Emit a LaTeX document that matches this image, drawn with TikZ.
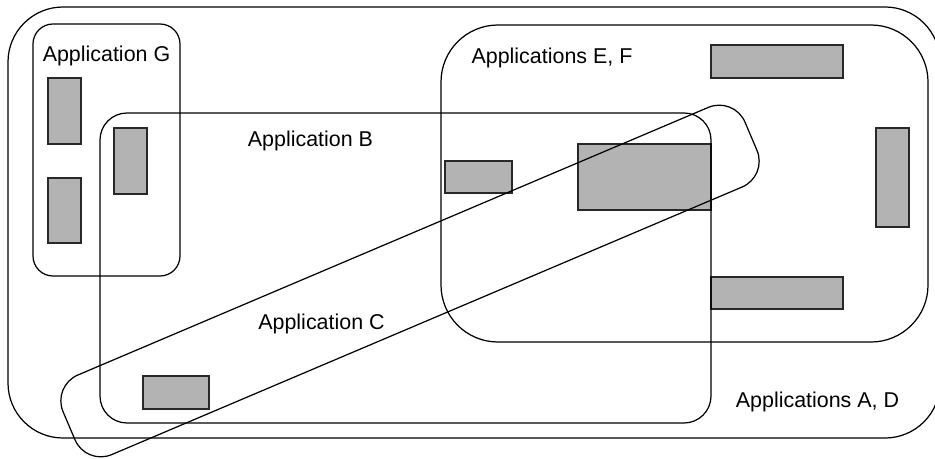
\documentclass[tikz,border=0pt]{standalone}
\usepackage{fontspec}
\setmainfont{Liberation Sans}
\definecolor{BlockGray}{RGB}{179,179,179}
\definecolor{EdgeGray}{RGB}{40,40,40}

\begin{document}
\begin{tikzpicture}[x=0.02cm, y=-0.02cm,
    block/.style={draw=EdgeGray, fill=BlockGray, line width=0.6pt},
    appset/.style={draw=black, line width=0.7pt},
    applabel/.style={anchor=base, inner sep=0pt, font=\fontsize{12.2}{14}\selectfont}
]
\useasboundingbox (0,0) rectangle (935,459);

% Blocks
\draw[block] (48,78) rectangle (81,144);
\draw[block] (48,178) rectangle (81,243);
\draw[block] (114,128) rectangle (147,194);
\draw[block] (143,376) rectangle (209,409);
\draw[block] (445,161) rectangle (512,193);
\draw[block] (578,144) rectangle (711,210);
\draw[block] (711,45) rectangle (843,78);
\draw[block] (876,128) rectangle (909,227);
\draw[block] (711,277) rectangle (843,309);

% Application sets
\draw[appset, rounded corners=1.1cm] (8,7) rectangle (940,438);
\draw[appset, rounded corners=0.4cm] (33,24) rectangle (180,276);
\draw[appset, rounded corners=0.54cm] (100,113) rectangle (711,423);
\draw[appset, rounded corners=1.14cm] (441,25) rectangle (928,342);
\node[appset, rotate=23, minimum width=14.82cm, minimum height=1.73cm, rounded corners=0.56cm, inner sep=0pt] (appC) at (410,281) {};

% Labels
\node[applabel] (labelG) at (106.5,62) {Application G};
\node[applabel] (labelB) at (310.5,147) {Application B};
\node[applabel] (labelEF) at (552,64) {Applications E, F};
\node[applabel] (labelC) at (321.5,329) {Application C};
\node[applabel] (labelAD) at (817.5,407) {Applications A, D};

\end{tikzpicture}
\end{document}
